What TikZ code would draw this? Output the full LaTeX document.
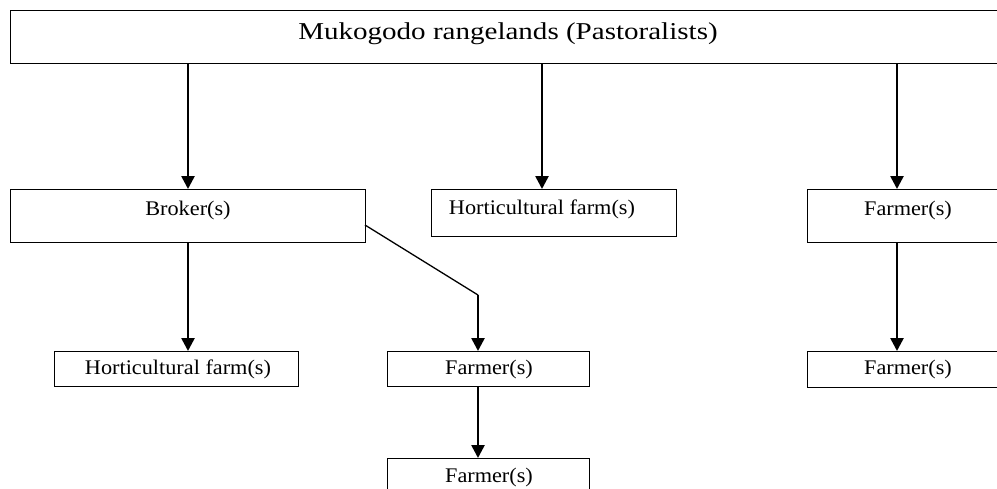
\documentclass[tikz,border=0pt]{standalone}
\usepackage{fontspec}
\setmainfont{Liberation Serif}
\newfontfamily\bigf[FakeStretch=1.2]{Liberation Serif}
\newfontfamily\smallf[FakeStretch=1.07]{Liberation Serif}
\usetikzlibrary{arrows.meta}
\begin{document}
\begin{tikzpicture}[x=1pt,y=-1pt,
  box/.style={draw, line width=1pt, inner sep=0pt, anchor=north west},
  lbl/.style={inner sep=0pt, font=\smallf\fontsize{20.8}{24}\selectfont},
  biglbl/.style={inner sep=0pt, font=\bigf\fontsize{24.2}{28}\selectfont},
  arr/.style={line width=2.6pt, -{Triangle[width=13pt,length=13pt]}},
  thin/.style={line width=1.3pt}]
\useasboundingbox (0,0) rectangle (997,488);
\clip (0,0) rectangle (997,488);
% boxes
\node[box, minimum width=996pt, minimum height=53pt] (top) at (10,10) {};
\node[box, minimum width=355pt, minimum height=53pt] (broker) at (10,189) {};
\node[box, minimum width=245pt, minimum height=47pt] (hortA) at (431,189) {};
\node[box, minimum width=202pt, minimum height=53pt] (farmR) at (807,189) {};
\node[box, minimum width=244pt, minimum height=35pt] (hortB) at (54,351) {};
\node[box, minimum width=202pt, minimum height=35pt] (farmM) at (387,351) {};
\node[box, minimum width=202pt, minimum height=37pt] (farmB) at (387,458) {};
\node[box, minimum width=202pt, minimum height=36pt] (farmRB) at (807,351) {};
% labels
\node[biglbl] (topt) at (508,34) {Mukogodo rangelands (Pastoralists)};
\node[lbl] (brokert) at (188,210) {Broker(s)};
\node[lbl] (hortAt) at (542,209) {Horticultural farm(s)};
\node[lbl] (farmRt) at (908,210) {Farmer(s)};
\node[lbl] (hortBt) at (178,369) {Horticultural farm(s)};
\node[lbl] (farmMt) at (489,369) {Farmer(s)};
\node[lbl] (farmBt) at (489,477) {Farmer(s)};
\node[lbl] (farmRBt) at (908,369) {Farmer(s)};
% connector coordinates
\coordinate (cA) at (542,0);
\coordinate (cR) at (897,0);
\coordinate (cM) at (478,0);
\coordinate (dstart) at (365,225);
\coordinate (bend) at (478,295);
% arrows
\draw[arr] (top.south -| broker.north) -- (broker.north);
\draw[arr] (top.south -| cA) -- (hortA.north -| cA);
\draw[arr] (top.south -| cR) -- (farmR.north -| cR);
\draw[arr] (broker.south) -- (hortB.north -| broker.south);
\draw[thin] (dstart) -- (bend);
\draw[arr] (bend) -- (farmM.north -| bend);
\draw[arr] (farmM.south -| cM) -- (farmB.north -| cM);
\draw[arr] (farmR.south -| cR) -- (farmRB.north -| cR);
\end{tikzpicture}
\end{document}
